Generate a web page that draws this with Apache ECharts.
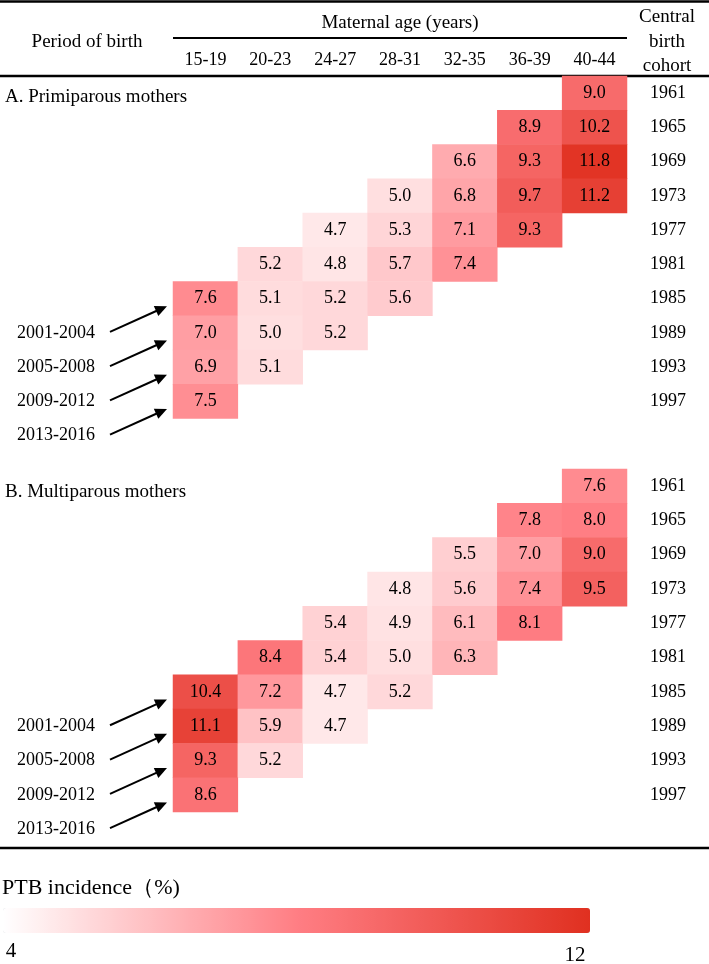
<!DOCTYPE html>
<html>
<head>
<meta charset="utf-8">
<script src="https://cdn.jsdelivr.net/npm/echarts@6/dist/echarts.min.js"></script>
<style>
html,body{margin:0;padding:0;background:#fff;}
#chart{width:709px;height:964px;}
</style>
</head>
<body>
<div id="chart"></div>
<script>
// ---- data ----
const ages = ['15-19','20-23','24-27','28-31','32-35','36-39','40-44'];
const cohorts = ['1961','1965','1969','1973','1977','1981','1985','1989','1993','1997'];
const periods = ['2001-2004','2005-2008','2009-2012','2013-2016'];
// rows: cohort, columns: maternal age group
const primiparous = [
  [null,null,null,null,null,null,9.0],
  [null,null,null,null,null,8.9,10.2],
  [null,null,null,null,6.6,9.3,11.8],
  [null,null,null,5.0,6.8,9.7,11.2],
  [null,null,4.7,5.3,7.1,9.3,null],
  [null,5.2,4.8,5.7,7.4,null,null],
  [7.6,5.1,5.2,5.6,null,null,null],
  [7.0,5.0,5.2,null,null,null,null],
  [6.9,5.1,null,null,null,null,null],
  [7.5,null,null,null,null,null,null]
];
const multiparous = [
  [null,null,null,null,null,null,7.6],
  [null,null,null,null,null,7.8,8.0],
  [null,null,null,null,5.5,7.0,9.0],
  [null,null,null,4.8,5.6,7.4,9.5],
  [null,null,5.4,4.9,6.1,8.1,null],
  [null,8.4,5.4,5.0,6.3,null,null],
  [10.4,7.2,4.7,5.2,null,null,null],
  [11.1,5.9,4.7,null,null,null,null],
  [9.3,5.2,null,null,null,null,null],
  [8.6,null,null,null,null,null,null]
];
const scaleMin = 4, scaleMax = 12;

function toCells(rows){
  const out = [];
  rows.forEach((r, yi) => r.forEach((v, xi) => { if (v !== null) out.push([xi, yi, v]); }));
  return out;
}

const FONT = 'Liberation Serif';
const NUM = 18;
const chart = echarts.init(document.getElementById('chart'), null, {renderer:'canvas', width:709, height:964});

const cellLabel = {
  show: true,
  formatter: p => p.value[2].toFixed(1),
  color: '#000', fontFamily: FONT, fontSize: NUM
};
const yAxisCommon = {
  type: 'category', data: cohorts, inverse: true, position: 'right',
  axisLine: {show:false}, axisTick: {show:false}, splitLine: {show:false},
  axisLabel: {margin: 41, align: 'center', color:'#000', fontFamily: FONT, fontSize: NUM}
};

chart.setOption({
  animation: false,
  backgroundColor: '#fff',
  grid: [
    {left: 173, width: 454, top: 76, height: 342.5},
    {left: 173, width: 454, top: 469, height: 343}
  ],
  xAxis: [
    {type:'category', data: ages, gridIndex:0, position:'top',
     axisLine:{show:false}, axisTick:{show:false}, splitLine:{show:false},
     axisLabel:{margin: 7, color:'#000', fontFamily: FONT, fontSize: NUM}},
    {type:'category', data: ages, gridIndex:1, show:false}
  ],
  yAxis: [
    Object.assign({gridIndex:0}, yAxisCommon),
    Object.assign({gridIndex:1}, yAxisCommon)
  ],
  visualMap: {
    type: 'continuous', min: scaleMin, max: scaleMax, seriesIndex: [0,1],
    orient: 'horizontal', left: 3, top: 908, itemWidth: 25, itemHeight: 587,
    padding: 0, calculable: false, showLabel: false, hoverLink: false,
    inRange: {color: ['#ffffff', '#ff7e84', '#e03020']}
  },
  series: [
    {type:'heatmap', xAxisIndex:0, yAxisIndex:0, data: toCells(primiparous), label: cellLabel,
     emphasis:{disabled:true}},
    {type:'heatmap', xAxisIndex:1, yAxisIndex:1, data: toCells(multiparous), label: cellLabel,
     emphasis:{disabled:true}}
  ]
});

// ---- annotations (table rules, headers, period arrows) ----
const txt = (x, y, s, size, align) => ({
  type:'text', x, y, silent:true,
  style:{text:s, fill:'#000', font: size + 'px "' + FONT + '"', align: align || 'center', verticalAlign:'middle'}
});
const hline = (x1, x2, y, w) => ({
  type:'line', silent:true, shape:{x1, y1:y, x2, y2:y}, style:{stroke:'#000', lineWidth:w}
});

const gfx = [
  hline(0, 709, 1.5, 2.5),
  hline(173, 627, 38, 2),
  hline(0, 709, 76, 2.5),
  hline(0, 709, 848, 2.5),
  txt(400, 23, 'Maternal age (years)', 19),
  txt(87, 42, 'Period of birth', 19),
  txt(667, 17, 'Central', 19),
  txt(667, 42, 'birth', 19),
  txt(667, 66, 'cohort', 19),
  txt(5, 97, 'A. Primiparous mothers', 19, 'left'),
  txt(5, 492, 'B. Multiparous mothers', 19, 'left'),
  txt(2, 888, 'PTB incidence（%)', 22, 'left'),
  txt(11, 951, String(scaleMin), 21),
  txt(575, 955, String(scaleMax), 21)
];

[0, 1].forEach(g => {
  const first = chart.convertToPixel({xAxisIndex:g, yAxisIndex:g}, [0, cohorts.indexOf('1989')]);
  const next = chart.convertToPixel({xAxisIndex:g, yAxisIndex:g}, [0, cohorts.indexOf('1993')]);
  const rowH = next[1] - first[1];
  const cellLeft = first[0] - (chart.convertToPixel({xAxisIndex:g, yAxisIndex:g}, [1, 0])[0] - first[0]) / 2;
  periods.forEach((p, i) => {
    const y = first[1] + i * rowH;
    gfx.push(txt(56, y, p, 18));
    const x1 = 110, y1 = y - 1;
    const x2 = cellLeft - 6, y2 = y - 0.78 * rowH;
    const ang = Math.atan2(y2 - y1, x2 - x1);
    const L = 12, W = 5.5;
    const bx = x2 - L * Math.cos(ang), by = y2 - L * Math.sin(ang);
    gfx.push({type:'line', silent:true, shape:{x1, y1, x2: bx + 2*Math.cos(ang), y2: by + 2*Math.sin(ang)},
              style:{stroke:'#000', lineWidth:2}});
    gfx.push({type:'polygon', silent:true, shape:{points:[
      [x2, y2],
      [bx - W * Math.sin(ang), by + W * Math.cos(ang)],
      [bx + W * Math.sin(ang), by - W * Math.cos(ang)]
    ]}, style:{fill:'#000'}});
  });
});

chart.setOption({graphic: gfx});
</script>
</body>
</html>
